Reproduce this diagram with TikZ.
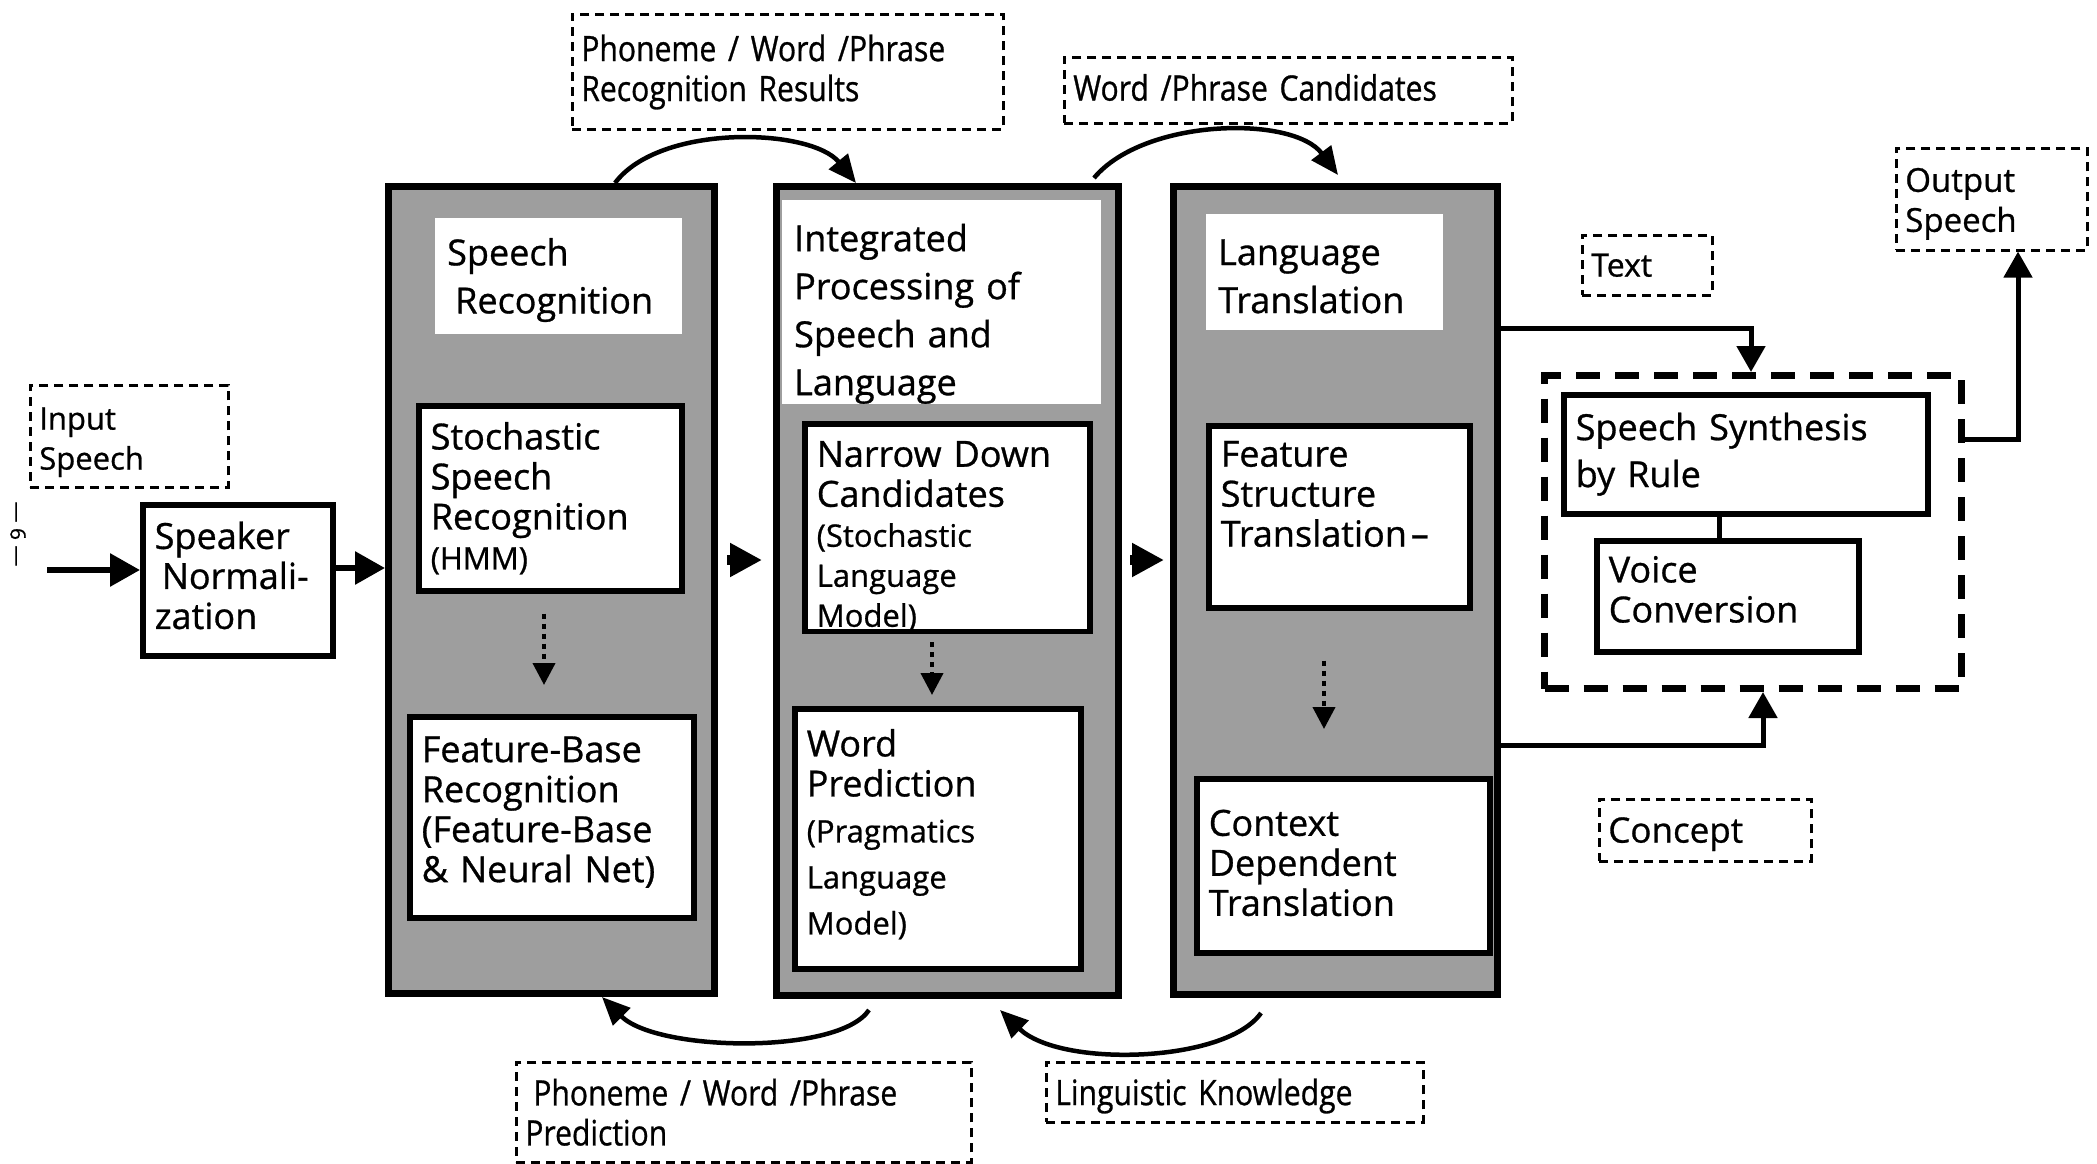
\documentclass[tikz,border=0pt]{standalone}
\usepackage{fontspec}
\setmainfont{Open Sans}[FakeBold=0.8]
\newfontfamily\condfont[FakeStretch=0.86,FakeBold=0.8]{Open Sans}
\usetikzlibrary{arrows.meta}

\definecolor{shade}{gray}{0.62}

\newcommand{\boxfont}{\fontsize{36}{40}\selectfont}
\newcommand{\titlefont}{\fontsize{36}{48}\selectfont}
\newcommand{\smallfont}{\fontsize{31}{40}\selectfont}
\newcommand{\lblfont}{\condfont\fontsize{35}{40}\selectfont}
% pushes a text block down (taller first line) or up (extra blank last line)
\newcommand{\topgap}[1]{\rule{0pt}{#1}}
\newcommand{\lowgap}[1]{\\[#1]\mbox{}}

\begin{document}
\begin{tikzpicture}[x=1pt,y=-1pt,
  bigbox/.style={draw, line width=7pt, fill=shade, anchor=north west, inner sep=0pt},
  titlebox/.style={fill=white, anchor=north west, align=left, inner xsep=12pt, inner ysep=0pt, font=\titlefont},
  innerbox/.style={draw, line width=5.5pt, fill=white, anchor=north west, align=left, inner xsep=12pt, inner ysep=0pt, font=\boxfont},
  lblbox/.style={draw, line width=2.6pt, dash pattern=on 9pt off 6pt, anchor=north west, align=left, inner xsep=9pt, inner ysep=0pt},
  synthbox/.style={draw, line width=7pt, dash pattern=on 24pt off 15pt, anchor=north west, inner sep=0pt},
  fat/.style={line width=6pt, -{Triangle[length=30pt,width=32pt]}},
  bar/.style={line width=10pt, -{Triangle[length=32pt,width=32pt]}},
  arc/.style={line width=4.5pt, -{Triangle[length=28pt,width=24pt]}},
  elbow/.style={line width=5pt, -{Triangle[length=26pt,width=28pt]}},
  dotarrow/.style={line width=4pt, dash pattern=on 5pt off 5pt, -{Triangle[length=22pt,width=22pt]}}
]
\fill[white] (0,0) rectangle (2097,1164);
\useasboundingbox (0,0) rectangle (2097,1164);

% helper positions for connector routing
\coordinate (x544) at (544,0);   \coordinate (x932) at (932,0);   \coordinate (x1324) at (1324,0);
\coordinate (x615) at (615,0);   \coordinate (x856) at (856,0);
\coordinate (x1094) at (1094,0); \coordinate (x1338) at (1338,0);
\coordinate (x869) at (869,0);   \coordinate (x602) at (602,0);
\coordinate (x1261) at (1261,0); \coordinate (x1000) at (1000,0);
\coordinate (x1719) at (1719,0); \coordinate (x1751) at (1751,0);
\coordinate (x1763) at (1763,0); \coordinate (x2018) at (2018,0);
\coordinate (yA) at (0,568); \coordinate (yB) at (0,560);
\coordinate (yT) at (0,328); \coordinate (yC) at (0,745); \coordinate (yO) at (0,439);
\coordinate (inS) at (47,570);

% page number at the side
\node[rotate=-90, font=\fontsize{21}{21}\selectfont, inner sep=0pt] (pg) at (18,534) {— 6 —};

% input side
\node[lblbox, minimum width=198, minimum height=102, text width=180, font=\fontsize{31}{40}\selectfont] (ins) at (29,384)
  {\topgap{34pt}Input\\Speech};
\node[innerbox, minimum width=190, minimum height=151, text width=166] (sn) at (140,502)
  {Speaker\\\hspace*{7pt}Normali-\\zation\lowgap{-30pt}};

% speech recognition column
\node[bigbox, minimum width=326, minimum height=807] (sr) at (385,183) {};
\node[titlebox, minimum width=247, minimum height=116, text width=223] (srt) at (435,218)
  {\topgap{35pt}Speech\\\hspace*{8pt}Recognition};
\node[innerbox, minimum width=263, minimum height=185, text width=239] (hmm) at (416,403)
  {Stochastic\\Speech\\Recognition\\{\smallfont(HMM)}};
\node[innerbox, minimum width=284, minimum height=201, text width=260] (fb) at (407,714)
  {Feature-Base\\Recognition\\(Feature-Base\\\&~Neural Net)\lowgap{-24pt}};

% integrated processing column
\node[bigbox, minimum width=342, minimum height=809] (ip) at (773,183) {};
\node[titlebox, minimum width=319, minimum height=197, text width=295] (ipt) at (782,200)
  {\topgap{51pt}Integrated\\Processing of\\Speech and\\Language};
\node[innerbox, minimum width=285, minimum height=207, text width=261] (nd) at (802,421)
  {\topgap{43pt}Narrow Down\\Candidates\\{\smallfont(Stochastic}\\{\smallfont Language}\\{\smallfont Model)}};
\node[innerbox, minimum width=286, minimum height=260, text width=262] (wp) at (792,706)
  {Word\\Prediction\\[6pt]{\smallfont(Pragmatics}\\[6pt]{\smallfont Language}\\[6pt]{\smallfont Model)}\lowgap{-26pt}};

% language translation column
\node[bigbox, minimum width=324, minimum height=808] (lt) at (1170,183) {};
\node[titlebox, minimum width=237, minimum height=116, text width=213] (ltt) at (1206,214)
  {\topgap{34pt}Language\\Translation};
\node[innerbox, minimum width=261, minimum height=182, text width=237] (fs) at (1206,423)
  {Feature\\Structure\\Translation\kern4pt–\lowgap{6pt}};
\node[innerbox, minimum width=293, minimum height=174, text width=269] (cd) at (1194,776)
  {Context\\Dependent\\Translation\lowgap{-34pt}};

% synthesis group
\node[synthbox, minimum width=417, minimum height=313] (syn) at (1541,372) {};
\node[innerbox, minimum width=364, minimum height=119, text width=340, font=\fontsize{36}{47}\selectfont] (ssr) at (1561,392)
  {Speech Synthesis\\by Rule};
\node[innerbox, minimum width=262, minimum height=111, text width=238] (vc) at (1594,538)
  {Voice\\Conversion\lowgap{-26pt}};

% dashed annotation labels
\node[lblbox, minimum width=431, minimum height=115, text width=413, font=\lblfont] (pwpr) at (571,13)
  {Phoneme / Word /Phrase\\Recognition Results\lowgap{-32pt}};
\node[lblbox, minimum width=448, minimum height=66, text width=430, font=\lblfont] (wpc) at (1063,56)
  {Word /Phrase Candidates\lowgap{-34pt}};
\node[lblbox, minimum width=455, minimum height=100, text width=437, font=\lblfont] (pwpp) at (515,1061)
  {\hspace*{8pt}Phoneme / Word /Phrase\\Prediction};
\node[lblbox, minimum width=377, minimum height=60, text width=359, font=\lblfont] (lk) at (1045,1061)
  {\topgap{34pt}Linguistic Knowledge};
\node[lblbox, minimum width=130, minimum height=60, text width=112, font=\fontsize{32}{40}\selectfont] (txt) at (1581,234)
  {Text};
\node[lblbox, minimum width=191, minimum height=102, text width=173, font=\fontsize{33}{40}\selectfont] (outs) at (1895,147)
  {\topgap{33pt}Output\\Speech};
\node[lblbox, minimum width=212, minimum height=62, text width=194, font=\fontsize{35}{40}\selectfont] (con) at (1598,798)
  {\topgap{33pt}Concept};

% main flow
\draw[fat] (inS) -- (inS -| sn.west);
\draw[fat] (sn.east |- yA) -- (sr.west |- yA);
\draw[bar, shorten <=9pt, shorten >=11pt] (sr.east |- yB) -- (ip.west |- yB);
\draw[bar, shorten <=8pt, shorten >=6pt] (ip.east |- yB) -- (lt.west |- yB);

% steps inside the columns
\draw[dotarrow, shorten <=20pt, shorten >=29pt] (hmm.south -| x544) -- (fb.north -| x544);
\draw[dotarrow, shorten <=8pt, shorten >=11pt] (nd.south -| x932) -- (wp.north -| x932);
\draw[dotarrow, shorten <=50pt, shorten >=47pt] (fs.south -| x1324) -- (cd.north -| x1324);

% results passed forward over the top
\draw[arc] (sr.north -| x615) .. controls +(45,-60) and +(-45,-55) .. (ip.north -| x856);
\draw[arc] ([yshift=5pt]ip.north -| x1094) .. controls +(50,-60) and +(-45,-60) .. ([yshift=8pt]lt.north -| x1338);

% predictions fed back underneath
\draw[arc] ([yshift=-11pt]ip.south -| x869) .. controls +(-30,45) and +(55,55) .. (sr.south -| x602);
\draw[arc] ([yshift=-15pt]lt.south -| x1261) .. controls +(-35,50) and +(60,58) .. ([yshift=-11pt]ip.south -| x1000);

% text and concept into synthesis, speech out
\draw[elbow] (lt.east |- yT) -| (syn.north -| x1751);
\draw[elbow] (lt.east |- yC) -| (syn.south -| x1763);
\draw[elbow] (syn.east |- yO) -| (outs.south -| x2018);
\draw[line width=5pt] (ssr.south -| x1719) -- (vc.north -| x1719);
\end{tikzpicture}
\end{document}
